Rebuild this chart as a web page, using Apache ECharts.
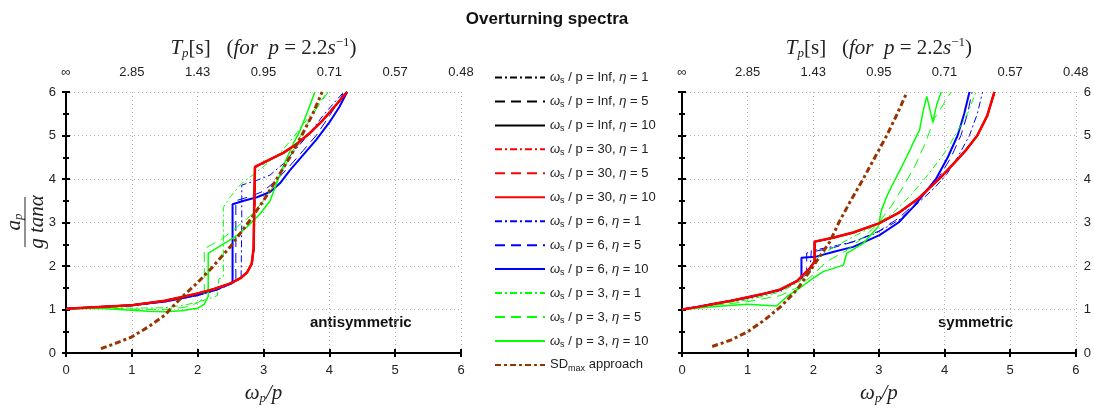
<!DOCTYPE html>
<html>
<head>
<meta charset="utf-8">
<script src="https://cdn.jsdelivr.net/npm/echarts@6/dist/echarts.min.js"></script>
<style>
  html, body { margin: 0; padding: 0; background: #fff; }
  #chart { width: 1094px; height: 411px; }
</style>
</head>
<body>
<div id="chart"></div>
<script>
// tick labels
const xTicks = [0, 1, 2, 3, 4, 5, 6]
const tpLabels = ['∞', '2.85', '1.43', '0.95', '0.71', '0.57', '0.48']

// legend / series names
const names = [
  'ωs / p = Inf, η = 1', 'ωs / p = Inf, η = 5', 'ωs / p = Inf, η = 10',
  'ωs / p = 30, η = 1', 'ωs / p = 30, η = 5', 'ωs / p = 30, η = 10',
  'ωs / p = 6, η = 1', 'ωs / p = 6, η = 5', 'ωs / p = 6, η = 10',
  'ωs / p = 3, η = 1', 'ωs / p = 3, η = 5', 'ωs / p = 3, η = 10',
  'SDmax approach'
]

// ---- antisymmetric (left panel) ----
const antiInf1 = [[0,1.02],[0.5,1.06],[1,1.1],[1.5,1.2],[1.8,1.29],[2,1.36],[2.25,1.46],[2.5,1.59],[2.65,1.71],[2.75,1.84],[2.83,2.05],[2.86,2.4],[2.87,3.5],[2.88,4.27],[3.1,4.44],[3.3,4.6],[3.5,4.8],[3.7,5.05],[3.9,5.36],[4.1,5.72],[4.26,6.0]]
const antiInf5 = [[0,1.02],[0.5,1.06],[1,1.1],[1.5,1.2],[1.8,1.3],[2,1.37],[2.25,1.47],[2.5,1.6],[2.65,1.72],[2.75,1.85],[2.82,2.05],[2.85,2.4],[2.86,3.5],[2.87,4.28],[3.1,4.45],[3.3,4.6],[3.5,4.8],[3.7,5.05],[3.9,5.35],[4.1,5.71],[4.27,6.0]]
const antiInf10 = [[0,1.02],[0.5,1.06],[1,1.1],[1.5,1.2],[1.8,1.3],[2,1.37],[2.25,1.47],[2.5,1.6],[2.65,1.72],[2.75,1.85],[2.82,2.05],[2.85,2.4],[2.86,3.5],[2.87,4.28],[3.1,4.45],[3.3,4.6],[3.5,4.8],[3.7,5.05],[3.9,5.35],[4.1,5.7],[4.27,6.0]]
const antiR1 = [[0,1.02],[0.5,1.06],[1,1.1],[1.5,1.2],[1.8,1.29],[2,1.36],[2.25,1.46],[2.5,1.59],[2.65,1.71],[2.75,1.84],[2.83,2.05],[2.86,2.4],[2.87,3.5],[2.88,4.26],[3.1,4.44],[3.3,4.6],[3.5,4.8],[3.7,5.05],[3.9,5.36],[4.1,5.72],[4.26,6.0]]
const antiR5 = [[0,1.02],[0.5,1.06],[1,1.1],[1.5,1.2],[1.8,1.3],[2,1.37],[2.25,1.47],[2.5,1.6],[2.65,1.72],[2.75,1.85],[2.82,2.05],[2.85,2.4],[2.86,3.5],[2.87,4.28],[3.1,4.45],[3.3,4.6],[3.5,4.8],[3.7,5.05],[3.9,5.35],[4.1,5.7],[4.27,6.0]]
const antiR10 = [[0,1.02],[0.5,1.06],[1,1.1],[1.5,1.2],[1.8,1.3],[2,1.37],[2.25,1.47],[2.5,1.6],[2.65,1.72],[2.75,1.85],[2.82,2.05],[2.85,2.4],[2.86,3.5],[2.87,4.28],[3.1,4.45],[3.3,4.6],[3.5,4.8],[3.7,5.05],[3.9,5.35],[4.1,5.7],[4.27,6.0]]
const antiB1 = [[0,1.02],[0.5,1.06],[1,1.09],[1.5,1.17],[2,1.32],[2.3,1.45],[2.5,1.58],[2.6,1.66],[2.66,1.75],[2.67,3.0],[2.67,3.86],[2.9,3.97],[3.1,4.09],[3.3,4.35],[3.5,4.7],[3.7,5.05],[3.9,5.45],[4.1,5.8],[4.22,6.0]]
const antiB5 = [[0,1.02],[0.5,1.05],[1,1.09],[1.5,1.17],[2,1.32],[2.3,1.45],[2.5,1.58],[2.58,1.64],[2.58,3.5],[2.8,3.6],[3.0,3.72],[3.2,3.98],[3.4,4.3],[3.6,4.65],[3.8,5.0],[4.0,5.45],[4.15,5.8],[4.22,6.0]]
const antiB10 = [[0,1.02],[0.5,1.06],[1,1.1],[1.5,1.19],[2,1.34],[2.3,1.47],[2.53,1.62],[2.53,3.42],[2.7,3.5],[2.9,3.58],[3.1,3.7],[3.25,3.9],[3.4,4.2],[3.6,4.55],[3.8,4.9],[4.0,5.3],[4.15,5.65],[4.27,6.0]]
const antiG1 = [[0,1.02],[0.5,1.05],[1,1.03],[1.5,1.04],[1.8,1.1],[2,1.17],[2.2,1.26],[2.3,1.32],[2.32,1.7],[2.39,1.75],[2.39,3.35],[2.5,3.6],[2.67,3.9],[2.87,4.13],[3.05,4.35],[3.25,4.6],[3.45,4.95],[3.65,5.35],[3.85,5.75],[3.97,6.0]]
const antiG5 = [[0,1.02],[0.5,1.04],[1,1.01],[1.5,1.0],[1.8,1.05],[2,1.15],[2.08,1.25],[2.1,1.4],[2.1,2.4],[2.35,2.6],[2.6,2.9],[2.8,3.15],[3.0,3.5],[3.2,3.95],[3.4,4.5],[3.6,5.1],[3.8,5.6],[3.98,6.0]]
const antiG10 = [[0,1.02],[0.5,1.03],[1,0.98],[1.25,0.96],[1.5,0.95],[1.75,0.97],[2,1.03],[2.1,1.12],[2.16,1.3],[2.16,2.29],[2.3,2.42],[2.55,2.65],[2.75,2.9],[2.95,3.2],[3.1,3.5],[3.2,3.9],[3.3,4.3],[3.45,4.8],[3.56,5.13],[3.67,5.55],[3.78,6.0]]
const antiSD = [[0.53,0.1],[0.75,0.22],[1,0.37],[1.25,0.6],[1.5,0.87],[1.58,1.0],[1.75,1.27],[2,1.62],[2.24,2.0],[2.5,2.45],[2.77,3.0],[3,3.5],[3.2,4.0],[3.4,4.5],[3.58,5.0],[3.75,5.5],[3.89,6.0]]

// ---- symmetric (right panel) ----
const symInf1 = [[0,1.0],[0.25,1.06],[0.5,1.13],[0.75,1.2],[1,1.28],[1.25,1.36],[1.5,1.46],[1.75,1.64],[1.95,1.94],[2.03,2.1],[2.03,2.55],[2.3,2.64],[2.61,2.77],[3.0,2.98],[3.3,3.22],[3.6,3.55],[3.93,4.02],[4.15,4.37],[4.33,4.67],[4.5,5.0],[4.65,5.45],[4.77,6.0]]
const symInf5 = [[0,1.0],[0.25,1.06],[0.5,1.13],[0.75,1.2],[1,1.28],[1.25,1.36],[1.5,1.46],[1.75,1.65],[1.95,1.95],[2.02,2.1],[2.02,2.56],[2.3,2.65],[2.61,2.77],[3.0,2.98],[3.3,3.22],[3.6,3.55],[3.93,4.02],[4.15,4.37],[4.33,4.67],[4.5,5.0],[4.65,5.45],[4.76,6.0]]
const symInf10 = [[0,1.0],[0.25,1.06],[0.5,1.13],[0.75,1.2],[1,1.28],[1.25,1.36],[1.5,1.46],[1.75,1.65],[1.95,1.95],[2.02,2.1],[2.02,2.56],[2.3,2.65],[2.61,2.77],[3.0,2.98],[3.3,3.22],[3.6,3.55],[3.93,4.02],[4.15,4.37],[4.33,4.67],[4.5,5.0],[4.65,5.45],[4.76,6.0]]
const symR1 = [[0,1.0],[0.25,1.06],[0.5,1.13],[0.75,1.2],[1,1.28],[1.25,1.36],[1.5,1.46],[1.75,1.64],[1.95,1.94],[2.03,2.1],[2.03,2.55],[2.3,2.64],[2.61,2.77],[3.0,2.98],[3.3,3.22],[3.6,3.55],[3.93,4.02],[4.15,4.37],[4.33,4.67],[4.5,5.0],[4.65,5.45],[4.77,6.0]]
const symR5 = [[0,1.0],[0.25,1.06],[0.5,1.13],[0.75,1.2],[1,1.28],[1.25,1.36],[1.5,1.46],[1.75,1.65],[1.95,1.95],[2.02,2.1],[2.02,2.56],[2.3,2.65],[2.61,2.77],[3.0,2.98],[3.3,3.22],[3.6,3.55],[3.93,4.02],[4.15,4.37],[4.33,4.67],[4.5,5.0],[4.65,5.45],[4.76,6.0]]
const symR10 = [[0,1.0],[0.25,1.06],[0.5,1.13],[0.75,1.2],[1,1.28],[1.25,1.36],[1.5,1.46],[1.75,1.65],[1.95,1.95],[2.02,2.1],[2.02,2.56],[2.3,2.65],[2.61,2.77],[3.0,2.98],[3.3,3.22],[3.6,3.55],[3.93,4.02],[4.15,4.37],[4.33,4.67],[4.5,5.0],[4.65,5.45],[4.76,6.0]]
const symB1 = [[0,1.0],[0.5,1.13],[1,1.27],[1.5,1.45],[1.8,1.7],[1.95,1.85],[1.97,2.35],[2.3,2.45],[2.61,2.56],[2.95,2.75],[3.3,3.05],[3.6,3.45],[3.85,3.8],[4.03,4.1],[4.2,4.5],[4.38,5.0],[4.5,5.5],[4.58,6.0]]
const symB5 = [[0,1.0],[0.5,1.13],[1,1.27],[1.5,1.45],[1.75,1.65],[1.9,1.8],[1.9,2.3],[2.3,2.42],[2.6,2.55],[3.0,2.8],[3.3,3.1],[3.6,3.5],[3.9,4.0],[4.1,4.5],[4.25,5.0],[4.35,5.5],[4.42,6.0]]
const symB10 = [[0,1.0],[0.5,1.13],[1,1.27],[1.5,1.45],[1.75,1.65],[1.82,1.75],[1.82,2.19],[2.03,2.21],[2.3,2.32],[2.61,2.44],[3.01,2.71],[3.3,3.0],[3.55,3.4],[3.75,3.78],[3.87,4.0],[4.05,4.5],[4.2,5.0],[4.3,5.5],[4.38,6.0]]
const symG1 = [[0,1.0],[0.5,1.12],[1,1.22],[1.5,1.4],[1.8,1.65],[2.0,2.0],[2.1,2.25],[2.4,2.5],[2.66,2.71],[2.9,2.9],[3.2,3.2],[3.5,3.65],[3.75,4.1],[4.0,4.6],[4.2,5.1],[4.35,5.5],[4.48,6.0]]
const symG5 = [[0,1.0],[0.5,1.1],[1,1.18],[1.5,1.32],[1.75,1.5],[2.0,1.8],[2.2,2.1],[2.5,2.35],[2.8,2.7],[3.0,3.0],[3.2,3.4],[3.4,3.9],[3.55,4.3],[3.7,4.8],[3.85,5.4],[4.1,6.0]]
const symG10 = [[0,1.0],[0.5,1.07],[1,1.12],[1.44,1.08],[1.6,1.3],[1.8,1.5],[2.0,1.72],[2.15,1.87],[2.46,2.02],[2.51,2.29],[2.76,2.52],[2.99,2.9],[3.04,3.29],[3.12,3.6],[3.2,3.85],[3.32,4.2],[3.42,4.5],[3.52,4.82],[3.62,5.13],[3.68,5.6],[3.73,5.9],[3.82,5.32],[3.88,5.7],[3.95,6.0]]
const symSD = [[0.46,0.15],[0.75,0.3],[1,0.49],[1.25,0.75],[1.5,1.06],[1.75,1.45],[2,2.0],[2.25,2.55],[2.39,3.0],[2.57,3.5],[2.76,4.0],[2.94,4.5],[3.12,5.0],[3.28,5.5],[3.43,6.0]]

const antiData = [antiInf1, antiInf5, antiInf10, antiR1, antiR5, antiR10, antiB1, antiB5, antiB10, antiG1, antiG5, antiG10, antiSD]
const symData = [symInf1, symInf5, symInf10, symR1, symR5, symR10, symB1, symB5, symB10, symG1, symG5, symG10, symSD]

const dashDot = [7, 3, 2, 3]
const dashed = [10, 6]
const lineStyles = [
  { color: '#000000', type: dashDot, width: 1 },
  { color: '#000000', type: dashed, width: 1 },
  { color: '#000000', type: 'solid', width: 2 },
  { color: '#ff0000', type: dashDot, width: 1 },
  { color: '#ff0000', type: dashed, width: 1 },
  { color: '#ff0000', type: 'solid', width: 2.5 },
  { color: '#0000ff', type: dashDot, width: 1 },
  { color: '#0000ff', type: dashed, width: 1 },
  { color: '#0000ff', type: 'solid', width: 2 },
  { color: '#00ff00', type: dashDot, width: 1 },
  { color: '#00ff00', type: dashed, width: 1 },
  { color: '#00ff00', type: 'solid', width: 1.5 },
  { color: '#993300', type: [6, 3, 3, 3], width: 3 }
]

const myChart = echarts.init(document.getElementById('chart'))

const sans = 'Liberation Sans'
const serif = 'Liberation Serif'
const grids = [
  { left: 66, right: 633, top: 92, bottom: 58 },
  { left: 682, right: 17, top: 92, bottom: 58 }
]

const mathRich = {
  i: { fontFamily: serif, fontStyle: 'italic', fontSize: 21, color: '#222', lineHeight: 24 },
  n: { fontFamily: serif, fontSize: 21, color: '#222', lineHeight: 24 },
  s: { fontFamily: serif, fontStyle: 'italic', fontSize: 13, color: '#222', lineHeight: 12, verticalAlign: 'bottom' },
  u: { fontFamily: serif, fontSize: 13, color: '#222', lineHeight: 14, verticalAlign: 'top' }
}

// builds the 4 x-axes of one panel (main + inner-tick copies)
function xAxesFor(g) {
  const base = { gridIndex: g, type: 'value', min: 0, max: 6, interval: 1 }
  const line = { show: true, lineStyle: { color: '#000', width: 2 } }
  return [
    Object.assign({}, base, {
      position: 'bottom', axisLine: line,
      axisTick: { show: true, length: 4, lineStyle: { width: 2, color: '#000' } },
      axisLabel: { margin: 11, fontSize: 13, color: '#222', fontFamily: sans },
      splitLine: { show: true, lineStyle: { color: '#b0b0b0', type: [1, 3], width: 1 } },
      name: '{i|ω}{s|p}{i|/p}', nameLocation: 'middle', nameGap: 28,
      nameTextStyle: { rich: mathRich }
    }),
    Object.assign({}, base, {
      position: 'bottom', axisLine: line, axisLabel: { show: false }, splitLine: { show: false },
      axisTick: { show: true, inside: true, length: 4, lineStyle: { width: 2, color: '#000' } }
    }),
    Object.assign({}, base, {
      position: 'top', axisLine: line,
      axisTick: { show: true, length: 4, lineStyle: { width: 2, color: '#000' } },
      axisLabel: {
        margin: 13, fontSize: 13, color: '#222', fontFamily: sans,
        formatter: function (v) { return tpLabels[xTicks.indexOf(v)] }
      },
      splitLine: { show: false },
      name: '{i|T}{s|p}{n|[s]   (}{i|for  p }{n|= 2.2}{i|s}{u|−1}{n|)}',
      nameLocation: 'middle', nameGap: 32,
      nameTextStyle: { rich: mathRich }
    }),
    Object.assign({}, base, {
      position: 'top', axisLine: line, axisLabel: { show: false }, splitLine: { show: false },
      axisTick: { show: true, inside: true, length: 4, lineStyle: { width: 2, color: '#000' } }
    })
  ]
}

// builds the 4 y-axes of one panel
function yAxesFor(g) {
  const base = { gridIndex: g, type: 'value', min: 0, max: 6, interval: 1 }
  const line = { show: true, lineStyle: { color: '#000', width: 2 } }
  const tick = { show: true, length: 4, lineStyle: { width: 2, color: '#000' } }
  const minor = { show: true, splitNumber: 2, length: 3, lineStyle: { width: 2, color: '#000' } }
  const label = { margin: 10, fontSize: 13, color: '#222', fontFamily: sans }
  return [
    Object.assign({}, base, {
      position: 'left', axisLine: line, axisTick: tick, minorTick: minor,
      axisLabel: Object.assign({ show: g === 0 }, label),
      splitLine: { show: true, lineStyle: { color: '#b0b0b0', type: [1, 3], width: 1 } }
    }),
    Object.assign({}, base, {
      position: 'left', axisLine: line, axisLabel: { show: false }, splitLine: { show: false },
      axisTick: Object.assign({ inside: true }, tick), minorTick: minor
    }),
    Object.assign({}, base, {
      position: 'right', axisLine: line, axisTick: tick, minorTick: minor,
      axisLabel: Object.assign({ show: g === 1 }, label, { margin: 8 }), splitLine: { show: false }
    }),
    Object.assign({}, base, {
      position: 'right', axisLine: line, axisLabel: { show: false }, splitLine: { show: false },
      axisTick: Object.assign({ inside: true }, tick), minorTick: minor
    })
  ]
}

const series = []
;[antiData, symData].forEach(function (panel, g) {
  panel.forEach(function (data, k) {
    series.push({
      name: names[k],
      type: 'line',
      xAxisIndex: g * 4,
      yAxisIndex: g * 4,
      data: data,
      symbol: 'none',
      z: k === 5 ? 4 : (k === 12 ? 5 : 3),
      lineStyle: lineStyles[k],
      itemStyle: { color: lineStyles[k].color }
    })
  })
})

const option = {
  animation: false,
  title: {
    text: 'Overturning spectra',
    left: 'center',
    top: 6,
    textStyle: { fontFamily: sans, fontWeight: 'bold', fontSize: 17, color: '#111' }
  },
  grid: grids,
  xAxis: xAxesFor(0).concat(xAxesFor(1)),
  yAxis: yAxesFor(0).concat(yAxesFor(1)),
  legend: {
    orient: 'vertical',
    left: 494,
    top: 71,
    padding: 0,
    itemWidth: 50,
    itemHeight: 14,
    itemGap: 9.45,
    data: names,
    itemStyle: { opacity: 0 },
    // legend label: italic ω with subscript s, italic η
    formatter: function (name) {
      if (name === 'SDmax approach') return '{n|SD}{s|max}{n| approach}'
      const rest = name.slice(2).split('η')
      return '{i|ω}{s|s}{n|' + rest[0] + '}{i|η}{n|' + rest[1] + '}'
    },
    textStyle: {
      fontFamily: sans, fontSize: 13, color: '#222',
      rich: {
        n: { fontFamily: sans, fontSize: 13, color: '#222', lineHeight: 16 },
        i: { fontFamily: sans, fontStyle: 'italic', fontSize: 13, color: '#222', lineHeight: 16 },
        s: { fontFamily: sans, fontSize: 9, color: '#222', lineHeight: 8, verticalAlign: 'bottom' }
      }
    }
  },
  graphic: [
    {
      type: 'group', x: 25, y: 222, rotation: Math.PI / 2,
      children: [
        { type: 'text', x: 0, y: -11, style: {
          text: '{i|a}{s|p}', align: 'center', verticalAlign: 'middle',
          rich: {
            i: { fontFamily: serif, fontStyle: 'italic', fontSize: 21, fill: '#222', lineHeight: 22 },
            s: { fontFamily: serif, fontStyle: 'italic', fontSize: 13, fill: '#222', lineHeight: 10, verticalAlign: 'bottom' }
          } } },
        { type: 'line', shape: { x1: -25, y1: 0, x2: 25, y2: 0 }, style: { stroke: '#222', lineWidth: 1 } },
        { type: 'text', x: 0, y: 12, style: {
          text: 'g tanα', align: 'center', verticalAlign: 'middle',
          fontFamily: serif, fontStyle: 'italic', fontSize: 21, fill: '#222' } }
      ]
    },
    { type: 'text', left: 310, top: 315, style: { text: 'antisymmetric', fontFamily: sans, fontWeight: 'bold', fontSize: 15, fill: '#111' } },
    { type: 'text', left: 938, top: 315, style: { text: 'symmetric', fontFamily: sans, fontWeight: 'bold', fontSize: 15, fill: '#111' } }
  ],
  series: series
}

option && myChart.setOption(option)
window.addEventListener('resize', () => {
  myChart.resize()
})
</script>
</body>
</html>
